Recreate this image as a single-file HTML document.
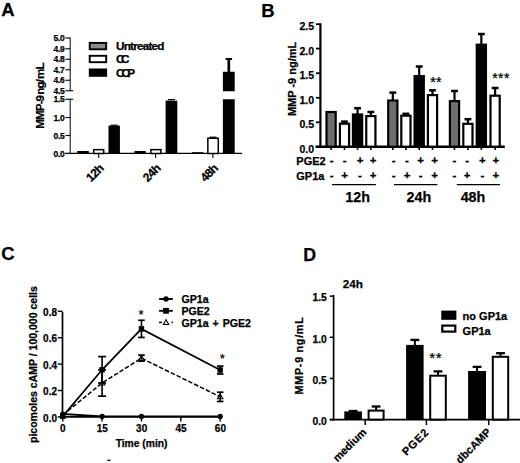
<!DOCTYPE html>
<html lang="en">
<head>
<meta charset="utf-8">
<title>Figure</title>
<style>
html,body{margin:0;padding:0;background:#fff;}
body{width:520px;height:463px;overflow:hidden;}
svg{display:block;}
svg text{font-family:"Liberation Sans", sans-serif;fill:#000;stroke:#000;stroke-width:0.25px;}
</style>
</head>
<body>
<svg width="520" height="463" viewBox="0 0 520 463">
<rect x="0" y="0" width="520" height="463" fill="#fff"/>
<text x="1.3" y="15.8" font-size="18.5" text-anchor="start" font-weight="bold">A</text>
<line x1="70.2" y1="37.5" x2="70.2" y2="91" stroke="#000" stroke-width="1"/>
<line x1="70.2" y1="99" x2="70.2" y2="153.5" stroke="#000" stroke-width="1"/>
<line x1="65.4" y1="38" x2="70.2" y2="38" stroke="#000" stroke-width="1.1"/>
<text x="64.5" y="41.1" font-size="8.5" text-anchor="end" font-weight="bold" letter-spacing="-0.3">5.0</text>
<line x1="65.4" y1="48.75" x2="70.2" y2="48.75" stroke="#000" stroke-width="1.1"/>
<text x="64.5" y="51.85" font-size="8.5" text-anchor="end" font-weight="bold" letter-spacing="-0.3">4.9</text>
<line x1="65.4" y1="59.25" x2="70.2" y2="59.25" stroke="#000" stroke-width="1.1"/>
<text x="64.5" y="62.35" font-size="8.5" text-anchor="end" font-weight="bold" letter-spacing="-0.3">4.8</text>
<line x1="65.4" y1="69.75" x2="70.2" y2="69.75" stroke="#000" stroke-width="1.1"/>
<text x="64.5" y="72.85" font-size="8.5" text-anchor="end" font-weight="bold" letter-spacing="-0.3">4.7</text>
<line x1="65.4" y1="80.25" x2="70.2" y2="80.25" stroke="#000" stroke-width="1.1"/>
<text x="64.5" y="83.35" font-size="8.5" text-anchor="end" font-weight="bold" letter-spacing="-0.3">4.6</text>
<line x1="65.4" y1="90.75" x2="73.2" y2="90.75" stroke="#000" stroke-width="1.1"/>
<text x="64.5" y="93.85" font-size="8.5" text-anchor="end" font-weight="bold" letter-spacing="-0.3">4.5</text>
<line x1="65.4" y1="99.25" x2="73.2" y2="99.25" stroke="#000" stroke-width="1.1"/>
<text x="64.5" y="102.35" font-size="8.5" text-anchor="end" font-weight="bold" letter-spacing="-0.3">1.5</text>
<line x1="65.4" y1="117.5" x2="70.2" y2="117.5" stroke="#000" stroke-width="1.1"/>
<text x="64.5" y="120.6" font-size="8.5" text-anchor="end" font-weight="bold" letter-spacing="-0.3">1.0</text>
<line x1="65.4" y1="135.5" x2="70.2" y2="135.5" stroke="#000" stroke-width="1.1"/>
<text x="64.5" y="138.6" font-size="8.5" text-anchor="end" font-weight="bold" letter-spacing="-0.3">0.5</text>
<line x1="65.4" y1="153.5" x2="70.2" y2="153.5" stroke="#000" stroke-width="1.1"/>
<text x="64.5" y="156.6" font-size="8.5" text-anchor="end" font-weight="bold" letter-spacing="-0.3">0.0</text>
<line x1="65.4" y1="153.4" x2="242" y2="153.4" stroke="#000" stroke-width="1.4"/>
<rect x="77.20" y="151.00" width="11.60" height="2.50" fill="#000"/>
<rect x="93.75" y="149.65" width="9.90" height="3.85" fill="#fff" stroke="#000" stroke-width="1.5"/>
<rect x="108.50" y="125.60" width="11.40" height="27.90" fill="#000"/>
<line x1="110.7" y1="125.2" x2="117.7" y2="125.2" stroke="#000" stroke-width="1.2"/>
<rect x="134.50" y="151.00" width="11.20" height="2.50" fill="#000"/>
<rect x="150.85" y="149.65" width="10.10" height="3.85" fill="#fff" stroke="#000" stroke-width="1.5"/>
<rect x="165.60" y="100.60" width="11.70" height="52.90" fill="#000"/>
<line x1="167.95" y1="99.6" x2="174.95" y2="99.6" stroke="#000" stroke-width="1.2"/>
<rect x="192.00" y="152.20" width="11.40" height="1.30" fill="#000"/>
<rect x="207.85" y="138.25" width="10.40" height="15.25" fill="#fff" stroke="#000" stroke-width="1.5"/>
<line x1="209.55" y1="137.2" x2="216.55" y2="137.2" stroke="#000" stroke-width="1.2"/>
<rect x="222.90" y="99.25" width="11.80" height="54.25" fill="#000"/>
<rect x="222.90" y="71.75" width="11.80" height="19.50" fill="#000"/>
<line x1="228.8" y1="59" x2="228.8" y2="72" stroke="#000" stroke-width="2.7"/>
<line x1="225.6" y1="59" x2="232.1" y2="59" stroke="#000" stroke-width="2.1"/>
<line x1="98.75" y1="153.5" x2="98.75" y2="158" stroke="#000" stroke-width="1.1"/>
<text x="104.35" y="169.2" font-size="12" text-anchor="end" font-weight="bold" letter-spacing="-0.6" transform="rotate(-45 104.35 169.2)">12h</text>
<line x1="155.6" y1="153.5" x2="155.6" y2="158" stroke="#000" stroke-width="1.1"/>
<text x="161.2" y="169.2" font-size="12" text-anchor="end" font-weight="bold" letter-spacing="-0.6" transform="rotate(-45 161.2 169.2)">24h</text>
<line x1="212.9" y1="153.5" x2="212.9" y2="158" stroke="#000" stroke-width="1.1"/>
<text x="218.5" y="169.2" font-size="12" text-anchor="end" font-weight="bold" letter-spacing="-0.6" transform="rotate(-45 218.5 169.2)">48h</text>
<rect x="89.70" y="42.90" width="16.50" height="6.40" fill="#8a8a8a" stroke="#000" stroke-width="1.9"/>
<rect x="89.70" y="55.80" width="16.50" height="6.40" fill="#fff" stroke="#000" stroke-width="1.9"/>
<rect x="88.80" y="68.50" width="18.30" height="8.30" fill="#000"/>
<text x="116.0" y="49.7" font-size="11.8" text-anchor="start" font-weight="bold" letter-spacing="-0.82">Untreated</text>
<text x="116.0" y="63.1" font-size="11.8" text-anchor="start" font-weight="bold" letter-spacing="-3.4">CC</text>
<text x="116.0" y="76.8" font-size="11.8" text-anchor="start" font-weight="bold" letter-spacing="-2.9">CCP</text>
<text x="44.4" y="96" font-size="11.6" text-anchor="middle" font-weight="bold" letter-spacing="-0.9" transform="rotate(-90 44.4 96)" word-spacing="-1.2">MMP-9 ng/ mL</text>
<text x="261.3" y="16.8" font-size="18.5" text-anchor="start" font-weight="bold">B</text>
<line x1="320.4" y1="23.3" x2="320.4" y2="147.79999999999998" stroke="#000" stroke-width="2.2"/>
<line x1="315.5" y1="146.7" x2="504.8" y2="146.7" stroke="#000" stroke-width="2.4"/>
<line x1="316" y1="24.2" x2="320.4" y2="24.2" stroke="#000" stroke-width="1.8"/>
<text x="314" y="30.2" font-size="10.5" text-anchor="end" font-weight="bold">2.5</text>
<line x1="316" y1="48.6" x2="320.4" y2="48.6" stroke="#000" stroke-width="1.8"/>
<text x="314" y="54.6" font-size="10.5" text-anchor="end" font-weight="bold">2.0</text>
<line x1="316" y1="73.2" x2="320.4" y2="73.2" stroke="#000" stroke-width="1.8"/>
<text x="314" y="79.2" font-size="10.5" text-anchor="end" font-weight="bold">1.5</text>
<line x1="316" y1="97.8" x2="320.4" y2="97.8" stroke="#000" stroke-width="1.8"/>
<text x="314" y="103.8" font-size="10.5" text-anchor="end" font-weight="bold">1.0</text>
<line x1="316" y1="122.3" x2="320.4" y2="122.3" stroke="#000" stroke-width="1.8"/>
<text x="314" y="128.3" font-size="10.5" text-anchor="end" font-weight="bold">0.5</text>
<line x1="316" y1="146.7" x2="320.4" y2="146.7" stroke="#000" stroke-width="1.8"/>
<text x="314" y="152.7" font-size="10.5" text-anchor="end" font-weight="bold">0.0</text>
<rect x="326.50" y="112.00" width="9.20" height="34.70" fill="#6e6e6e" stroke="#000" stroke-width="2.2"/>
<line x1="331.1" y1="146.7" x2="331.1" y2="149.89999999999998" stroke="#000" stroke-width="1.6"/>
<line x1="344.5" y1="121.6" x2="344.5" y2="123.6" stroke="#000" stroke-width="2.2"/>
<line x1="341.1" y1="121.6" x2="347.9" y2="121.6" stroke="#000" stroke-width="2.5"/>
<rect x="339.90" y="123.70" width="9.20" height="23.00" fill="#fff" stroke="#000" stroke-width="2.2"/>
<line x1="344.5" y1="146.7" x2="344.5" y2="149.89999999999998" stroke="#000" stroke-width="1.6"/>
<line x1="357.55" y1="108.2" x2="357.55" y2="114.4" stroke="#000" stroke-width="2.2"/>
<line x1="354.15000000000003" y1="108.2" x2="360.95" y2="108.2" stroke="#000" stroke-width="2.5"/>
<rect x="351.85" y="113.40" width="11.40" height="33.30" fill="#000"/>
<line x1="357.55" y1="146.7" x2="357.55" y2="149.89999999999998" stroke="#000" stroke-width="1.6"/>
<line x1="370.85" y1="112.0" x2="370.85" y2="116.0" stroke="#000" stroke-width="2.2"/>
<line x1="367.45000000000005" y1="112.0" x2="374.25" y2="112.0" stroke="#000" stroke-width="2.5"/>
<rect x="366.25" y="116.10" width="9.20" height="30.60" fill="#fff" stroke="#000" stroke-width="2.2"/>
<line x1="370.85" y1="146.7" x2="370.85" y2="149.89999999999998" stroke="#000" stroke-width="1.6"/>
<line x1="392.8" y1="92.6" x2="392.8" y2="100.4" stroke="#000" stroke-width="2.2"/>
<line x1="389.40000000000003" y1="92.6" x2="396.2" y2="92.6" stroke="#000" stroke-width="2.5"/>
<rect x="388.20" y="100.50" width="9.20" height="46.20" fill="#6e6e6e" stroke="#000" stroke-width="2.2"/>
<line x1="392.8" y1="146.7" x2="392.8" y2="149.89999999999998" stroke="#000" stroke-width="1.6"/>
<line x1="405.9" y1="113.8" x2="405.9" y2="115.6" stroke="#000" stroke-width="2.2"/>
<line x1="402.5" y1="113.8" x2="409.29999999999995" y2="113.8" stroke="#000" stroke-width="2.5"/>
<rect x="401.30" y="115.70" width="9.20" height="31.00" fill="#fff" stroke="#000" stroke-width="2.2"/>
<line x1="405.9" y1="146.7" x2="405.9" y2="149.89999999999998" stroke="#000" stroke-width="1.6"/>
<line x1="419.2" y1="66.5" x2="419.2" y2="76.0" stroke="#000" stroke-width="2.2"/>
<line x1="415.8" y1="66.5" x2="422.59999999999997" y2="66.5" stroke="#000" stroke-width="2.5"/>
<rect x="413.50" y="75.00" width="11.40" height="71.70" fill="#000"/>
<line x1="419.2" y1="146.7" x2="419.2" y2="149.89999999999998" stroke="#000" stroke-width="1.6"/>
<line x1="432.5" y1="90.3" x2="432.5" y2="95.0" stroke="#000" stroke-width="2.2"/>
<line x1="429.1" y1="90.3" x2="435.9" y2="90.3" stroke="#000" stroke-width="2.5"/>
<rect x="427.90" y="95.10" width="9.20" height="51.60" fill="#fff" stroke="#000" stroke-width="2.2"/>
<line x1="432.5" y1="146.7" x2="432.5" y2="149.89999999999998" stroke="#000" stroke-width="1.6"/>
<line x1="454.5" y1="91.0" x2="454.5" y2="101.0" stroke="#000" stroke-width="2.2"/>
<line x1="451.1" y1="91.0" x2="457.9" y2="91.0" stroke="#000" stroke-width="2.5"/>
<rect x="449.90" y="101.10" width="9.20" height="45.60" fill="#6e6e6e" stroke="#000" stroke-width="2.2"/>
<line x1="454.5" y1="146.7" x2="454.5" y2="149.89999999999998" stroke="#000" stroke-width="1.6"/>
<line x1="467.9" y1="119.2" x2="467.9" y2="123.7" stroke="#000" stroke-width="2.2"/>
<line x1="464.5" y1="119.2" x2="471.29999999999995" y2="119.2" stroke="#000" stroke-width="2.5"/>
<rect x="463.30" y="123.80" width="9.20" height="22.90" fill="#fff" stroke="#000" stroke-width="2.2"/>
<line x1="467.9" y1="146.7" x2="467.9" y2="149.89999999999998" stroke="#000" stroke-width="1.6"/>
<line x1="481.35" y1="34.0" x2="481.35" y2="44.6" stroke="#000" stroke-width="2.2"/>
<line x1="477.95000000000005" y1="34.0" x2="484.75" y2="34.0" stroke="#000" stroke-width="2.5"/>
<rect x="475.65" y="43.60" width="11.40" height="103.10" fill="#000"/>
<line x1="481.35" y1="146.7" x2="481.35" y2="149.89999999999998" stroke="#000" stroke-width="1.6"/>
<line x1="495.1" y1="88.0" x2="495.1" y2="95.6" stroke="#000" stroke-width="2.2"/>
<line x1="491.70000000000005" y1="88.0" x2="498.5" y2="88.0" stroke="#000" stroke-width="2.5"/>
<rect x="490.50" y="95.70" width="9.20" height="51.00" fill="#fff" stroke="#000" stroke-width="2.2"/>
<line x1="495.1" y1="146.7" x2="495.1" y2="149.89999999999998" stroke="#000" stroke-width="1.6"/>
<text x="331.6" y="164.4" font-size="11.5" text-anchor="middle" font-weight="bold">-</text>
<text x="331.6" y="179.3" font-size="11.5" text-anchor="middle" font-weight="bold">-</text>
<text x="344.7" y="164.4" font-size="11.5" text-anchor="middle" font-weight="bold">-</text>
<text x="344.7" y="179.3" font-size="11.5" text-anchor="middle" font-weight="bold">+</text>
<text x="360" y="164.4" font-size="11.5" text-anchor="middle" font-weight="bold">+</text>
<text x="360" y="179.3" font-size="11.5" text-anchor="middle" font-weight="bold">-</text>
<text x="373" y="164.4" font-size="11.5" text-anchor="middle" font-weight="bold">+</text>
<text x="373" y="179.3" font-size="11.5" text-anchor="middle" font-weight="bold">+</text>
<text x="393.6" y="164.4" font-size="11.5" text-anchor="middle" font-weight="bold">-</text>
<text x="393.6" y="179.3" font-size="11.5" text-anchor="middle" font-weight="bold">-</text>
<text x="407" y="164.4" font-size="11.5" text-anchor="middle" font-weight="bold">-</text>
<text x="407" y="179.3" font-size="11.5" text-anchor="middle" font-weight="bold">+</text>
<text x="420.6" y="164.4" font-size="11.5" text-anchor="middle" font-weight="bold">+</text>
<text x="420.6" y="179.3" font-size="11.5" text-anchor="middle" font-weight="bold">-</text>
<text x="434.6" y="164.4" font-size="11.5" text-anchor="middle" font-weight="bold">+</text>
<text x="434.6" y="179.3" font-size="11.5" text-anchor="middle" font-weight="bold">+</text>
<text x="454.3" y="164.4" font-size="11.5" text-anchor="middle" font-weight="bold">-</text>
<text x="454.3" y="179.3" font-size="11.5" text-anchor="middle" font-weight="bold">-</text>
<text x="467.2" y="164.4" font-size="11.5" text-anchor="middle" font-weight="bold">-</text>
<text x="467.2" y="179.3" font-size="11.5" text-anchor="middle" font-weight="bold">+</text>
<text x="482.4" y="164.4" font-size="11.5" text-anchor="middle" font-weight="bold">+</text>
<text x="482.4" y="179.3" font-size="11.5" text-anchor="middle" font-weight="bold">-</text>
<text x="495.9" y="164.4" font-size="11.5" text-anchor="middle" font-weight="bold">+</text>
<text x="495.9" y="179.3" font-size="11.5" text-anchor="middle" font-weight="bold">+</text>
<text x="296.3" y="164.5" font-size="11" text-anchor="start" font-weight="bold">PGE2</text>
<text x="296.3" y="179.5" font-size="11" text-anchor="start" font-weight="bold">GP1a</text>
<line x1="332" y1="184.6" x2="375.9" y2="184.6" stroke="#000" stroke-width="1.3"/>
<text x="357.65" y="202.2" font-size="14.3" text-anchor="middle" font-weight="bold">12h</text>
<line x1="394" y1="184.6" x2="437.4" y2="184.6" stroke="#000" stroke-width="1.3"/>
<text x="418.85" y="202.2" font-size="14.3" text-anchor="middle" font-weight="bold">24h</text>
<line x1="456.8" y1="184.6" x2="500" y2="184.6" stroke="#000" stroke-width="1.3"/>
<text x="473" y="202.2" font-size="14.3" text-anchor="middle" font-weight="bold">48h</text>
<text x="436.0" y="87.1" font-size="14" text-anchor="middle" font-weight="normal" letter-spacing="0.4" stroke="none">**</text>
<text x="501.0" y="83.0" font-size="14" text-anchor="middle" font-weight="normal" letter-spacing="0.4" stroke="none">***</text>
<text x="295.7" y="78.9" font-size="11" text-anchor="middle" font-weight="bold" transform="rotate(-90 295.7 78.9)">MMP -9 ng/mL</text>
<text x="1.2" y="260.3" font-size="18.5" text-anchor="start" font-weight="bold">C</text>
<line x1="62.5" y1="311.9" x2="62.5" y2="417.79999999999995" stroke="#000" stroke-width="1.7"/>
<line x1="61.7" y1="416.9" x2="221.2" y2="416.9" stroke="#000" stroke-width="1.9"/>
<line x1="57.8" y1="416.9" x2="62.5" y2="416.9" stroke="#000" stroke-width="1.4"/>
<text x="57" y="421.5" font-size="10" text-anchor="end" font-weight="bold">0.0</text>
<line x1="57.8" y1="390.5" x2="62.5" y2="390.5" stroke="#000" stroke-width="1.4"/>
<text x="57" y="395.1" font-size="10" text-anchor="end" font-weight="bold">0.2</text>
<line x1="57.8" y1="364.09999999999997" x2="62.5" y2="364.09999999999997" stroke="#000" stroke-width="1.4"/>
<text x="57" y="368.7" font-size="10" text-anchor="end" font-weight="bold">0.4</text>
<line x1="57.8" y1="337.7" x2="62.5" y2="337.7" stroke="#000" stroke-width="1.4"/>
<text x="57" y="342.3" font-size="10" text-anchor="end" font-weight="bold">0.6</text>
<line x1="57.8" y1="311.29999999999995" x2="62.5" y2="311.29999999999995" stroke="#000" stroke-width="1.4"/>
<text x="57" y="315.9" font-size="10" text-anchor="end" font-weight="bold">0.8</text>
<line x1="62.7" y1="416.9" x2="62.7" y2="421.5" stroke="#000" stroke-width="1.4"/>
<text x="62.900000000000006" y="432.4" font-size="10" text-anchor="middle" font-weight="bold">0</text>
<line x1="102.075" y1="416.9" x2="102.075" y2="421.5" stroke="#000" stroke-width="1.4"/>
<text x="102.275" y="432.4" font-size="10" text-anchor="middle" font-weight="bold">15</text>
<line x1="141.45" y1="416.9" x2="141.45" y2="421.5" stroke="#000" stroke-width="1.4"/>
<text x="141.64999999999998" y="432.4" font-size="10" text-anchor="middle" font-weight="bold">30</text>
<line x1="180.825" y1="416.9" x2="180.825" y2="421.5" stroke="#000" stroke-width="1.4"/>
<text x="181.02499999999998" y="432.4" font-size="10" text-anchor="middle" font-weight="bold">45</text>
<line x1="220.2" y1="416.9" x2="220.2" y2="421.5" stroke="#000" stroke-width="1.4"/>
<text x="220.39999999999998" y="432.4" font-size="10" text-anchor="middle" font-weight="bold">60</text>
<text x="141.6" y="446.6" font-size="10.3" text-anchor="middle" font-weight="bold">Time (min)</text>
<text x="37.2" y="364.6" font-size="10.5" text-anchor="middle" font-weight="bold" transform="rotate(-90 37.2 364.6)">picomoles cAMP / 100,000 cells</text>
<polyline points="62.7,414.0 102.1,416.4 141.4,416.4 220.2,416.4" fill="none" stroke="#000" stroke-width="1.8"/>
<polyline points="62.7,415.1 102.1,383.0 141.4,358.2 220.2,396.8" fill="none" stroke="#000" stroke-width="1.5" stroke-dasharray="4.5 2"/>
<polyline points="62.7,416.4 102.1,369.8 141.4,328.9 220.2,370.0" fill="none" stroke="#000" stroke-width="1.75"/>
<polygon points="62.7,412.3 60.0,417.1 65.4,417.1" fill="#000" stroke="#000" stroke-width="1.1"/>
<polygon points="102.1,380.2 99.4,385.0 104.8,385.0" fill="#fff" stroke="#000" stroke-width="1.1"/>
<polygon points="141.4,355.4 138.8,360.2 144.1,360.2" fill="#fff" stroke="#000" stroke-width="1.1"/>
<polygon points="220.2,394.0 217.5,398.8 222.9,398.8" fill="#fff" stroke="#000" stroke-width="1.1"/>
<line x1="102.075" y1="356.57599999999996" x2="102.075" y2="382.976" stroke="#000" stroke-width="1.6"/>
<line x1="98.075" y1="356.57599999999996" x2="106.075" y2="356.57599999999996" stroke="#000" stroke-width="1.7"/>
<line x1="98.075" y1="382.976" x2="106.075" y2="382.976" stroke="#000" stroke-width="1.7"/>
<line x1="141.45" y1="320.27599999999995" x2="141.45" y2="337.436" stroke="#000" stroke-width="1.6"/>
<line x1="138.14999999999998" y1="320.27599999999995" x2="144.75" y2="320.27599999999995" stroke="#000" stroke-width="1.7"/>
<line x1="138.14999999999998" y1="337.436" x2="144.75" y2="337.436" stroke="#000" stroke-width="1.7"/>
<line x1="220.2" y1="366.08" x2="220.2" y2="374.0" stroke="#000" stroke-width="1.6"/>
<line x1="216.89999999999998" y1="366.08" x2="223.5" y2="366.08" stroke="#000" stroke-width="1.7"/>
<line x1="216.89999999999998" y1="374.0" x2="223.5" y2="374.0" stroke="#000" stroke-width="1.7"/>
<line x1="102.075" y1="369.77599999999995" x2="102.075" y2="396.176" stroke="#000" stroke-width="1.6"/>
<line x1="98.075" y1="369.77599999999995" x2="106.075" y2="369.77599999999995" stroke="#000" stroke-width="1.7"/>
<line x1="98.075" y1="396.176" x2="106.075" y2="396.176" stroke="#000" stroke-width="1.7"/>
<line x1="141.45" y1="355.12399999999997" x2="141.45" y2="361.19599999999997" stroke="#000" stroke-width="1.6"/>
<line x1="138.14999999999998" y1="355.12399999999997" x2="144.75" y2="355.12399999999997" stroke="#000" stroke-width="1.7"/>
<line x1="138.14999999999998" y1="361.19599999999997" x2="144.75" y2="361.19599999999997" stroke="#000" stroke-width="1.7"/>
<line x1="220.2" y1="392.21599999999995" x2="220.2" y2="401.45599999999996" stroke="#000" stroke-width="1.6"/>
<line x1="216.89999999999998" y1="392.21599999999995" x2="223.5" y2="392.21599999999995" stroke="#000" stroke-width="1.7"/>
<line x1="216.89999999999998" y1="401.45599999999996" x2="223.5" y2="401.45599999999996" stroke="#000" stroke-width="1.7"/>
<circle cx="62.7" cy="414.0" r="2.6" fill="#000"/>
<circle cx="102.1" cy="416.4" r="2.6" fill="#000"/>
<circle cx="141.4" cy="416.4" r="2.6" fill="#000"/>
<circle cx="220.2" cy="416.4" r="2.6" fill="#000"/>
<rect x="60.00" y="413.67" width="5.40" height="5.40" fill="#000"/>
<rect x="99.38" y="367.08" width="5.40" height="5.40" fill="#000"/>
<rect x="138.75" y="326.16" width="5.40" height="5.40" fill="#000"/>
<rect x="217.50" y="367.34" width="5.40" height="5.40" fill="#000"/>
<text x="141.2" y="319.0" font-size="12" text-anchor="middle" font-weight="normal" stroke="none">*</text>
<text x="222.3" y="363.4" font-size="12" text-anchor="middle" font-weight="normal" stroke="none">*</text>
<line x1="159.1" y1="299" x2="172.8" y2="299" stroke="#000" stroke-width="1.9"/>
<circle cx="166" cy="299" r="2.7" fill="#000"/>
<line x1="159.1" y1="310.8" x2="172.8" y2="310.8" stroke="#000" stroke-width="1.9"/>
<rect x="163.10" y="307.90" width="5.80" height="5.80" fill="#000"/>
<line x1="159.1" y1="322.4" x2="161.9" y2="322.4" stroke="#000" stroke-width="1.6"/>
<line x1="171.5" y1="322.4" x2="172.8" y2="322.4" stroke="#000" stroke-width="1.6"/>
<polygon points="166.0,319.7 163.3,324.5 168.7,324.5" fill="#fff" stroke="#000" stroke-width="1.1"/>
<text x="181.5" y="302.7" font-size="10.6" text-anchor="start" font-weight="bold">GP1a</text>
<text x="181.5" y="314.7" font-size="10.6" text-anchor="start" font-weight="bold">PGE2</text>
<text x="181.5" y="326.5" font-size="10.6" text-anchor="start" font-weight="bold" word-spacing="1">GP1a + PGE2</text>
<line x1="107.2" y1="460.3" x2="110.6" y2="460.3" stroke="#000" stroke-width="1.2"/>
<text x="303.2" y="260.8" font-size="17.8" text-anchor="start" font-weight="bold">D</text>
<text x="342.7" y="288" font-size="11.7" text-anchor="start" font-weight="bold">24h</text>
<line x1="333.6" y1="294.9" x2="333.6" y2="420.5" stroke="#000" stroke-width="1.7"/>
<line x1="329.8" y1="419.6" x2="520" y2="419.6" stroke="#000" stroke-width="1.9"/>
<line x1="329.8" y1="419.6" x2="333.6" y2="419.6" stroke="#000" stroke-width="1.5"/>
<text x="326.8" y="424.8" font-size="10.3" text-anchor="end" font-weight="bold">0.0</text>
<line x1="329.8" y1="378.45000000000005" x2="333.6" y2="378.45000000000005" stroke="#000" stroke-width="1.5"/>
<text x="326.8" y="383.65000000000003" font-size="10.3" text-anchor="end" font-weight="bold">0.5</text>
<line x1="329.8" y1="337.3" x2="333.6" y2="337.3" stroke="#000" stroke-width="1.5"/>
<text x="326.8" y="342.5" font-size="10.3" text-anchor="end" font-weight="bold">1.0</text>
<line x1="329.8" y1="296.15000000000003" x2="333.6" y2="296.15000000000003" stroke="#000" stroke-width="1.5"/>
<text x="326.8" y="301.35" font-size="10.3" text-anchor="end" font-weight="bold">1.5</text>
<line x1="353.1" y1="411.0" x2="353.1" y2="412.4" stroke="#000" stroke-width="2.0"/>
<line x1="348.70000000000005" y1="411.0" x2="357.5" y2="411.0" stroke="#000" stroke-width="2.3"/>
<rect x="344.30" y="411.40" width="17.60" height="8.20" fill="#000"/>
<line x1="376.1" y1="406.5" x2="376.1" y2="410.6" stroke="#000" stroke-width="2.0"/>
<line x1="371.70000000000005" y1="406.5" x2="380.5" y2="406.5" stroke="#000" stroke-width="2.3"/>
<rect x="368.60" y="410.60" width="15.00" height="9.00" fill="#fff" stroke="#000" stroke-width="2.0"/>
<line x1="414.85" y1="339.9" x2="414.85" y2="345.9" stroke="#000" stroke-width="2.0"/>
<line x1="410.45000000000005" y1="339.9" x2="419.25" y2="339.9" stroke="#000" stroke-width="2.3"/>
<rect x="406.10" y="344.90" width="17.50" height="74.70" fill="#000"/>
<line x1="438.0" y1="371.4" x2="438.0" y2="375.7" stroke="#000" stroke-width="2.0"/>
<line x1="433.6" y1="371.4" x2="442.4" y2="371.4" stroke="#000" stroke-width="2.3"/>
<rect x="430.20" y="375.70" width="15.60" height="43.90" fill="#fff" stroke="#000" stroke-width="2.0"/>
<line x1="477.05" y1="366.9" x2="477.05" y2="372.0" stroke="#000" stroke-width="2.0"/>
<line x1="472.65000000000003" y1="366.9" x2="481.45" y2="366.9" stroke="#000" stroke-width="2.3"/>
<rect x="468.10" y="371.00" width="17.90" height="48.60" fill="#000"/>
<line x1="500.5" y1="353.2" x2="500.5" y2="356.8" stroke="#000" stroke-width="2.0"/>
<line x1="496.1" y1="353.2" x2="504.9" y2="353.2" stroke="#000" stroke-width="2.3"/>
<rect x="492.80" y="356.80" width="15.40" height="62.80" fill="#fff" stroke="#000" stroke-width="2.0"/>
<line x1="365.2" y1="419.6" x2="365.2" y2="425.0" stroke="#000" stroke-width="1.5"/>
<text x="367.0" y="432.8" font-size="10.9" text-anchor="end" font-weight="bold" letter-spacing="0" transform="rotate(-45 367.0 432.8)">medium</text>
<line x1="426.4" y1="419.6" x2="426.4" y2="425.0" stroke="#000" stroke-width="1.5"/>
<text x="429.79999999999995" y="432.8" font-size="11" text-anchor="end" font-weight="bold" letter-spacing="0.9" transform="rotate(-45 429.79999999999995 432.8)">PGE2</text>
<line x1="488.7" y1="419.6" x2="488.7" y2="425.0" stroke="#000" stroke-width="1.5"/>
<text x="491.7" y="432.8" font-size="11" text-anchor="end" font-weight="bold" letter-spacing="0.1" transform="rotate(-45 491.7 432.8)">dbcAMP</text>
<text x="435.7" y="363.2" font-size="15" text-anchor="middle" font-weight="normal" letter-spacing="0.5" stroke="none">**</text>
<rect x="441.30" y="310.60" width="15.10" height="9.20" fill="#000"/>
<rect x="442.30" y="325.60" width="13.00" height="6.00" fill="#fff" stroke="#000" stroke-width="2.2"/>
<text x="462.6" y="319.7" font-size="11" text-anchor="start" font-weight="bold">no GP1a</text>
<text x="462.6" y="334.5" font-size="11" text-anchor="start" font-weight="bold">GP1a</text>
<text x="302.9" y="355.5" font-size="10.8" text-anchor="middle" font-weight="bold" letter-spacing="0.7" transform="rotate(-90 302.9 355.5)">MMP-9 ng/mL</text>
</svg>
</body>
</html>
